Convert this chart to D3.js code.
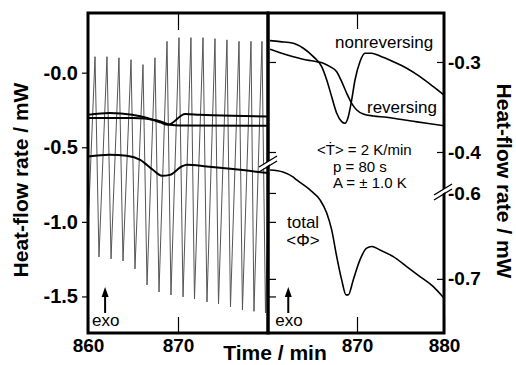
<!DOCTYPE html>
<html>
<head>
<meta charset="utf-8">
<script src="https://cdn.jsdelivr.net/npm/d3@7/dist/d3.min.js"></script>
<style>
  body { margin: 0; background: #fff; }
  text { font-family: Arial, "Liberation Sans", sans-serif; fill: #000; }
</style>
</head>
<body>
<script>
// modulated heat-flow signal (left panel), peaks and troughs
var peakTimes = [860.78, 862.11, 863.44, 864.78, 866.11, 867.44, 868.78, 870.11, 871.44, 872.78, 874.11, 875.44, 876.78, 878.11, 879.33];
var peakValues = [0.107, 0.107, 0.10, 0.087, 0.054, 0.10, 0.21, 0.235, 0.235, 0.235, 0.228, 0.22, 0.21, 0.21, 0.21];
var troughTimes = [861.22, 862.56, 863.89, 865.22, 866.56, 867.89, 869.22, 870.56, 871.83, 873.22, 874.5, 875.83, 877.16, 878.44, 879.72];
var troughValues = [-1.235, -1.248, -1.262, -1.315, -1.423, -1.47, -1.49, -1.503, -1.517, -1.537, -1.55, -1.57, -1.59, -1.60, -1.61];
var signalStart = [860.0, -1.05];
var signalEnd = [880.0, -1.0];

// smooth curves in left panel (left scale)
var nonrevLeftT = [860.0, 862.4, 864.9, 866.6, 868.0, 868.9, 870.8, 872.4, 876.1, 880.0];
var nonrevLeftV = [-0.282, -0.270, -0.282, -0.304, -0.333, -0.349, -0.277, -0.282, -0.289, -0.293];
var revLeftT = [860.0, 865.0, 867.7, 869.1, 870.2, 880.0];
var revLeftV = [-0.304, -0.304, -0.320, -0.349, -0.354, -0.356];
var totalLeftT = [860.0, 862.4, 864.3, 865.8, 867.2, 868.2, 869.1, 870.4, 871.0, 873.2, 876.1, 880.0];
var totalLeftV = [-0.562, -0.550, -0.557, -0.584, -0.651, -0.691, -0.685, -0.629, -0.617, -0.629, -0.646, -0.673];

// right panel curves (right scale)
var nonrevT = [860.0, 861.15, 862.68, 863.83, 864.98, 865.94, 866.52, 867.09, 867.67, 868.24, 868.62, 869.0, 869.39, 869.77, 870.34, 870.92, 871.69, 872.64, 874.17, 875.71, 877.24, 878.77, 880.0];
var nonrevV = [-0.2763, -0.2774, -0.2792, -0.2848, -0.2941, -0.3052, -0.32, -0.3386, -0.357, -0.3663, -0.3681, -0.3608, -0.3422, -0.32, -0.2997, -0.2903, -0.2903, -0.2933, -0.2997, -0.307, -0.3163, -0.3274, -0.3367];
var revT = [860.0, 861.15, 862.68, 864.22, 865.37, 866.13, 866.9, 867.67, 868.24, 868.82, 869.39, 869.97, 870.72, 871.87, 873.41, 874.94, 876.47, 878.01, 880.0];
var revV = [-0.2859, -0.2897, -0.2941, -0.2978, -0.2997, -0.3014, -0.3052, -0.3108, -0.3219, -0.3348, -0.3459, -0.3533, -0.3578, -0.36, -0.3614, -0.3637, -0.3659, -0.3681, -0.3708];
var totalT = [860.0, 861.49, 862.64, 863.07, 864.6, 865.75, 866.52, 867.09, 867.67, 868.24, 868.74, 869.0, 869.57, 870.34, 871.11, 871.69, 872.64, 874.17, 875.71, 877.24, 878.77, 880.0];
var totalV = [-0.5709, -0.5756, -0.5814, -0.5849, -0.5965, -0.6081, -0.6233, -0.643, -0.6741, -0.7012, -0.7186, -0.7186, -0.7012, -0.6779, -0.6643, -0.6624, -0.6663, -0.6741, -0.6857, -0.6973, -0.709, -0.7224];

// ticks
var leftTicks = [0, -0.5, -1.0, -1.5];
var leftTickLabels = ["-0.0", "-0.5", "-1.0", "-1.5"];
var rightTicks = [-0.3, -0.4, -0.6, -0.7];
var rightTickLabels = ["-0.3", "-0.4", "-0.6", "-0.7"];
var leftTimeTicks = [860, 870];
var rightTimeTicks = [870, 880];

var W = 516, H = 365;
var yTop = 13, yBot = 333;
var leftX0 = 88, mid = 268, rightX1 = 444;

var svg = d3.select('body').append('svg')
    .attr('width', W).attr('height', H);

var xL = d3.scaleLinear().domain([860, 880]).range([leftX0, mid]);
var xR = d3.scaleLinear().domain([860, 880]).range([mid + 2, rightX1]);
var yL = d3.scaleLinear().domain([-1.745, 0.40]).range([yBot, yTop]);
// broken right axis: upper part -0.42..-0.2456, lower part -0.763..-0.5733
var yR = d3.scaleLinear().domain([-0.763, -0.5733, -0.42, -0.2456]).range([yBot, 170, 170, yTop]);

var defs = svg.append('defs');
defs.append('clipPath').attr('id', 'clipL').append('rect')
    .attr('x', leftX0).attr('y', yTop).attr('width', mid - leftX0).attr('height', yBot - yTop);
defs.append('clipPath').attr('id', 'clipR').append('rect')
    .attr('x', mid).attr('y', yTop).attr('width', rightX1 - mid).attr('height', yBot - yTop);

// build signal points from peak/trough arrays
var signal = [signalStart];
peakTimes.forEach(function(t, i) {
    signal.push([t, peakValues[i]]);
    signal.push([troughTimes[i], troughValues[i]]);
});
signal.push(signalEnd);

function zip(ts, vs) {
    return ts.map(function(t, i) { return [t, vs[i]]; });
}

var gL = svg.append('g').attr('clip-path', 'url(#clipL)');
var lineSig = d3.line().x(function(d) { return xL(d[0]); }).y(function(d) { return yL(d[1]); });
gL.append('path').datum(signal)
    .attr('d', lineSig)
    .attr('fill', 'none').attr('stroke', '#555').attr('stroke-width', 1);

var lineL = d3.line().curve(d3.curveMonotoneX)
    .x(function(d) { return xL(d[0]); }).y(function(d) { return yL(d[1]); });
[zip(nonrevLeftT, nonrevLeftV), zip(revLeftT, revLeftV), zip(totalLeftT, totalLeftV)].forEach(function(s) {
    gL.append('path').datum(s)
        .attr('d', lineL)
        .attr('fill', 'none').attr('stroke', '#000').attr('stroke-width', 2);
});

var gR = svg.append('g').attr('clip-path', 'url(#clipR)');
var lineR = d3.line().curve(d3.curveMonotoneX)
    .x(function(d) { return xR(d[0]); }).y(function(d) { return yR(d[1]); });
[zip(nonrevT, nonrevV), zip(revT, revV), zip(totalT, totalV)].forEach(function(s) {
    gR.append('path').datum(s)
        .attr('d', lineR)
        .attr('fill', 'none').attr('stroke', '#000').attr('stroke-width', 1.6);
});

// axes
function styleAxis(g, size) {
    g.select('.domain').remove();
    g.selectAll('.tick line').attr('stroke', '#000').attr('stroke-width', 1.2);
    g.selectAll('text').attr('font-size', size + 'px').attr('font-weight', 'bold').attr('fill', '#000');
}

var axL = svg.append('g').attr('transform', 'translate(' + leftX0 + ',0)')
    .call(d3.axisLeft(yL).tickValues(leftTicks)
        .tickFormat(function(d, i) { return leftTickLabels[i]; })
        .tickSize(6).tickPadding(4));
styleAxis(axL, 20);

var axR = svg.append('g').attr('transform', 'translate(' + rightX1 + ',0)')
    .call(d3.axisRight(yR).tickValues(rightTicks)
        .tickFormat(function(d, i) { return rightTickLabels[i]; })
        .tickSizeInner(-7).tickSizeOuter(0).tickPadding(4));
styleAxis(axR, 19);

// inward ticks on the right panel's left edge
var axMidR = svg.append('g').attr('transform', 'translate(' + mid + ',0)')
    .call(d3.axisRight(yR).tickValues(rightTicks).tickFormat('').tickSize(8));
styleAxis(axMidR, 10);
var axMidL = svg.append('g').attr('transform', 'translate(' + mid + ',0)')
    .call(d3.axisRight(yL).tickValues([-1.0, -1.5]).tickFormat('').tickSize(8));
styleAxis(axMidL, 10);

var axBL = svg.append('g').attr('transform', 'translate(0,' + yBot + ')')
    .call(d3.axisBottom(xL).tickValues(leftTimeTicks).tickFormat(d3.format('d'))
        .tickSizeInner(-16).tickSizeOuter(0).tickPadding(6));
styleAxis(axBL, 19);
var axBR = svg.append('g').attr('transform', 'translate(0,' + yBot + ')')
    .call(d3.axisBottom(xR).tickValues(rightTimeTicks).tickFormat(d3.format('d'))
        .tickSizeInner(-16).tickSizeOuter(0).tickPadding(6));
styleAxis(axBR, 19);
var axTL = svg.append('g').attr('transform', 'translate(0,' + yTop + ')')
    .call(d3.axisTop(xL).tickValues([870]).tickFormat('').tickSize(-17));
styleAxis(axTL, 10);
var axTR = svg.append('g').attr('transform', 'translate(0,' + yTop + ')')
    .call(d3.axisTop(xR).tickValues([870]).tickFormat('').tickSize(-16));
styleAxis(axTR, 10);

// frames
svg.append('rect').attr('x', leftX0).attr('y', yTop).attr('width', mid - leftX0).attr('height', yBot - yTop)
    .attr('fill', 'none').attr('stroke', '#000').attr('stroke-width', 3);
svg.append('rect').attr('x', mid).attr('y', yTop).attr('width', rightX1 - mid).attr('height', yBot - yTop)
    .attr('fill', 'none').attr('stroke', '#000').attr('stroke-width', 3);

// axis break marks
function breakMark(x, y) {
    var g = svg.append('g').attr('transform', 'translate(' + x + ',' + y + ')');
    g.append('path').attr('d', 'M-7,3 L7,-6 L7,-2 L-7,7 Z').attr('fill', '#fff');
    g.append('path').attr('d', 'M-9,4 L9,-7').attr('stroke', '#000').attr('stroke-width', 1.4);
    g.append('path').attr('d', 'M-9,9 L9,-2').attr('stroke', '#000').attr('stroke-width', 1.4);
}
breakMark(mid, 163);
breakMark(rightX1 - 1, 191);

// axis titles
svg.append('text')
    .attr('transform', 'translate(28,180) rotate(-90)')
    .attr('text-anchor', 'middle').attr('font-size', '21px').attr('font-weight', 'bold')
    .text('Heat-flow  rate / mW');
svg.append('text')
    .attr('transform', 'translate(497,181) rotate(90)')
    .attr('text-anchor', 'middle').attr('font-size', '21px').attr('font-weight', 'bold')
    .text('Heat-flow  rate / mW');
svg.append('text')
    .attr('x', 275).attr('y', 360)
    .attr('text-anchor', 'middle').attr('font-size', '21px').attr('font-weight', 'bold')
    .text('Time / min');

// annotations
function label(x, y, s, size, anchor) {
    svg.append('text').attr('x', x).attr('y', y)
        .attr('font-size', size + 'px').attr('text-anchor', anchor || 'start')
        .text(s);
}
label(335, 48, 'nonreversing', 17);
label(367, 113, 'reversing', 17);
label(317, 155, '<Ṫ> = 2 K/min', 15);
label(333, 172, 'p = 80 s', 15);
label(333, 188, 'A = ± 1.0 K', 15);
label(287, 228, 'total', 17);
label(303, 246, '<Φ>', 17, 'middle');

function exo(x) {
    var g = svg.append('g');
    g.append('line').attr('x1', x).attr('x2', x).attr('y1', 313).attr('y2', 295)
        .attr('stroke', '#000').attr('stroke-width', 2);
    g.append('path').attr('d', 'M' + (x - 3.5) + ',297 L' + x + ',287 L' + (x + 3.5) + ',297 Z')
        .attr('fill', '#000');
    label(x - 13, 326, 'exo', 17);
}
exo(xL(861.9));
exo(xR(862.1));
</script>
</body>
</html>
